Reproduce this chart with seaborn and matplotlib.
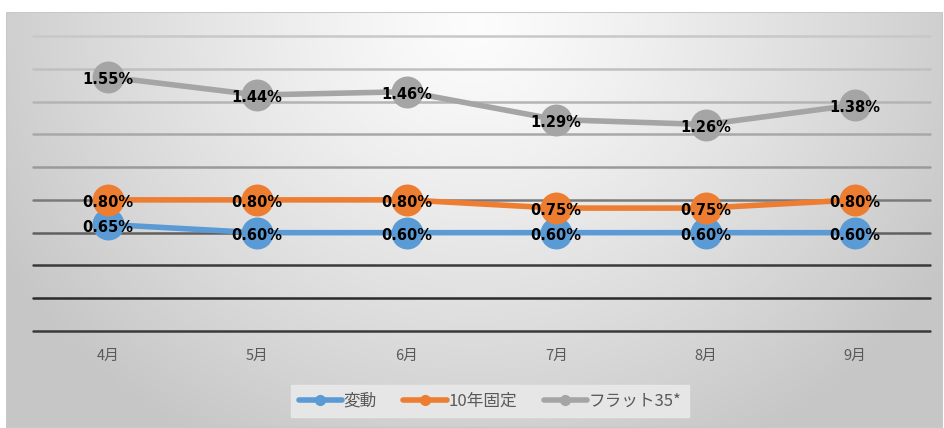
import numpy as np
import pandas as pd
import matplotlib
matplotlib.use("Agg")
import matplotlib.pyplot as plt
import seaborn as sns
from matplotlib.patches import Rectangle
from matplotlib.lines import Line2D

months = ["4月", "5月", "6月", "7月", "8月", "9月"]
hendo = [0.65, 0.60, 0.60, 0.60, 0.60, 0.60]
kotei10 = [0.80, 0.80, 0.80, 0.75, 0.75, 0.80]
flat35 = [1.55, 1.44, 1.46, 1.29, 1.26, 1.38]
series_names = ["変動", "10年固定", "フラット35*"]
colors = ["#5b9bd5", "#ed7d31", "#a5a5a5"]

sns.set_theme(style="white")
plt.rcParams['font.family'] = ['Noto Sans CJK JP', 'DejaVu Sans']

W, H = 945, 428
fig = plt.figure(figsize=(W / 100, H / 100), dpi=100)
fig.patch.set_facecolor("white")

# background gradient panel
bg = fig.add_axes([6 / W, 0, (W - 8) / W, (H - 12) / H])
bg.set_axis_off()
yy, xx = np.mgrid[0:200, 0:400]
cx, cy = 200, 5
d = np.sqrt(((xx - cx) / 230.0) ** 2 + ((yy - cy) / 230.0) ** 2)
val = 0.99 - 0.21 * np.clip(d, 0, 1.0) ** 1.2
img = np.dstack([val, val, val])
bg.imshow(img, aspect="auto", extent=[0, 1, 0, 1], origin="upper")
bg.add_patch(Rectangle((0, 0), 1, 1, transform=bg.transAxes, fill=False,
                       edgecolor="#c8c8c8", lw=1.5))
bg.set_xlim(0, 1)
bg.set_ylim(0, 1)

# plot area
left, right = 33, 930
top, bottom = 36, 331
ax = fig.add_axes([left / W, 1 - bottom / H, (right - left) / W, (bottom - top) / H])
ax.patch.set_alpha(0)
ax.set_xlim(-0.5, 5.5)
ax.set_ylim(0, 1.8)

grid_vals = [0.0, 0.2, 0.4, 0.6, 0.8, 1.0, 1.2, 1.4, 1.6, 1.8]
grid_cols = ["#3a3a3a", "#2a2a2a", "#3a3a3a", "#606060", "#7a7a7a",
             "#9a9a9a", "#a8a8a8", "#b4b4b4", "#c0c0c0", "#c8c8c8"]
for gv, gc in zip(grid_vals, grid_cols):
    ax.axhline(gv, color=gc, lw=1.8, zorder=1, clip_on=False)

df = pd.DataFrame({"month": months * 3,
                   "x": list(range(6)) * 3,
                   "rate": hendo + kotei10 + flat35,
                   "series": sum([[s] * 6 for s in series_names], [])})

for i, (name, col) in enumerate(zip(series_names, colors)):
    sub = df[df.series == name]
    sns.lineplot(data=sub, x="x", y="rate", ax=ax, color=col, lw=4.0,
                 marker="o", markersize=23, markeredgewidth=0,
                 zorder=3 + i, legend=False)

for name in series_names:
    sub = df[df.series == name]
    for xv, yv in zip(sub.x, sub.rate):
        ax.annotate(f"{yv:.2f}%", (xv, yv), xytext=(0, -2),
                    textcoords="offset points", ha="center", va="center",
                    fontsize=10.5, fontweight="bold", color="black",
                    family=["DejaVu Sans"], zorder=10)

ax.set_xticks(range(6))
ax.set_xticklabels(months, color="#595959", fontsize=10.5)
ax.tick_params(axis="x", length=0, pad=13)
ax.set_yticks([])
ax.set_xlabel("")
ax.set_ylabel("")
for s in ax.spines.values():
    s.set_visible(False)

# legend
handles = [Line2D([0], [0], color=c, lw=4, marker="o", markersize=7)
           for c in colors]
leg = fig.legend(handles, series_names, loc="center",
                 bbox_to_anchor=(490 / W, 1 - 401 / H), ncol=3,
                 frameon=True, fontsize=12, handlelength=2.6,
                 columnspacing=1.6, handletextpad=0.1,
                 borderpad=0.45)
leg.get_frame().set_facecolor("#e9e9e9")
leg.get_frame().set_edgecolor("#e9e9e9")
leg.get_frame().set_alpha(0.9)
leg.get_frame().set_boxstyle("square", pad=0)
for t in leg.get_texts():
    t.set_color("#595959")

fig.savefig("out.png", dpi=100)
